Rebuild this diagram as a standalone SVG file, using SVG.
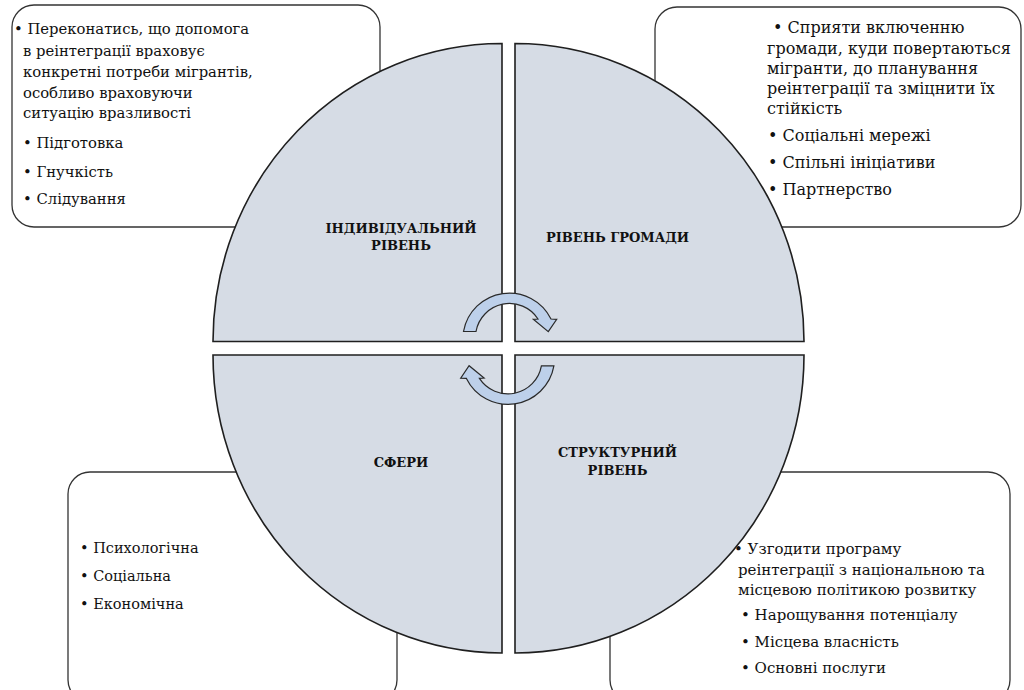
<svg xmlns="http://www.w3.org/2000/svg" width="1024" height="690" viewBox="0 0 1024 690">
<style>
.box{fill:#ffffff;stroke:#333333;stroke-width:1.3}
.q{fill:#d6dce5;stroke:#1f1f1f;stroke-width:1.6}
.t{font-family:"DejaVu Serif","Liberation Serif",serif;font-size:15px;fill:#111111}
.lb{font-family:"DejaVu Serif","Liberation Serif",serif;font-size:13px;font-weight:bold;fill:#111111;text-anchor:middle}
.arr{fill:#bdd0ea;stroke:#2a2a2a;stroke-width:1.2;stroke-linejoin:miter}
</style>
<rect width="1024" height="690" fill="#ffffff"/>
<g id="box-individual">
<rect class="box" x="12" y="5" width="368" height="222" rx="22"/>
<text class="t" style="font-size:14.8px"><tspan x="14" y="34">• Переконатись, що допомога</tspan><tspan x="23" y="56">в реінтеграції враховує</tspan><tspan x="23" y="77">конкретні потреби мігрантів,</tspan><tspan x="23" y="98">особливо враховуючи</tspan><tspan x="23" y="118">ситуацію вразливості</tspan><tspan x="23" y="148">• Підготовка</tspan><tspan x="23" y="177">• Гнучкість</tspan><tspan x="23" y="204">• Слідування</tspan></text>
</g>
<g id="box-community">
<rect class="box" x="655" y="7" width="366" height="220" rx="22"/>
<text class="t" style="font-size:16px"><tspan x="773" y="33">• Сприяти включенню</tspan><tspan x="767" y="54">громади, куди повертаються</tspan><tspan x="767" y="74">мігранти, до планування</tspan><tspan x="767" y="94">реінтеграції та зміцнити їх</tspan><tspan x="767" y="114">стійкість</tspan><tspan x="768" y="141">• Соціальні мережі</tspan><tspan x="768" y="168">• Спільні ініціативи</tspan><tspan x="768" y="195">• Партнерство</tspan></text>
</g>
<g id="box-spheres">
<rect class="box" x="68" y="472" width="329" height="230" rx="22"/>
<text class="t" style="font-size:14.5px"><tspan x="80" y="553">• Психологічна</tspan><tspan x="80" y="581">• Соціальна</tspan><tspan x="80" y="609">• Економічна</tspan></text>
</g>
<g id="box-structural">
<rect class="box" x="610" y="472" width="400" height="230" rx="22"/>
<text class="t"><tspan x="734" y="554">• Узгодити програму</tspan><tspan x="738" y="575">реінтеграції з національною та</tspan><tspan x="738" y="595">місцевою політикою розвитку</tspan><tspan x="741" y="620">• Нарощування потенціалу</tspan><tspan x="741" y="647">• Місцева власність</tspan><tspan x="741" y="673">• Основні послуги</tspan></text>
</g>
<g id="q-individual">
<path class="q" d="M502 341.5 L213 341.5 A289 298 0 0 1 502 43.5 Z"/>
<text class="lb"><tspan x="401" y="233">ІНДИВІДУАЛЬНИЙ</tspan><tspan x="401" y="250">РІВЕНЬ</tspan></text>
</g>
<g id="q-community">
<path class="q" d="M515 341.5 L515 43.5 A289 298 0 0 1 804 341.5 Z"/>
<text class="lb" x="617.5" y="242">РІВЕНЬ ГРОМАДИ</text>
</g>
<g id="q-spheres">
<path class="q" d="M502 355 L502 653 A289 298 0 0 1 213 355 Z"/>
<text class="lb" x="401" y="467">СФЕРИ</text>
</g>
<g id="q-structural">
<path class="q" d="M515 355 L804 355 A289 298 0 0 1 515 653 Z"/>
<text class="lb"><tspan x="617.5" y="457">СТРУКТУРНИЙ</tspan><tspan x="617.5" y="475">РІВЕНЬ</tspan></text>
</g>
<g id="connectors">
<path id="cycle-arrow" class="arr" d="M463.5 331.5 A46.5 46.5 0 0 1 551 319 L556.7 319.3 L548.3 331.7 L533.3 319.3 L538 319 A34 34 0 0 0 476 331.5 Z"/>
<use href="#cycle-arrow" transform="rotate(180 508.7 348.7)"/>
</g>
</svg>
